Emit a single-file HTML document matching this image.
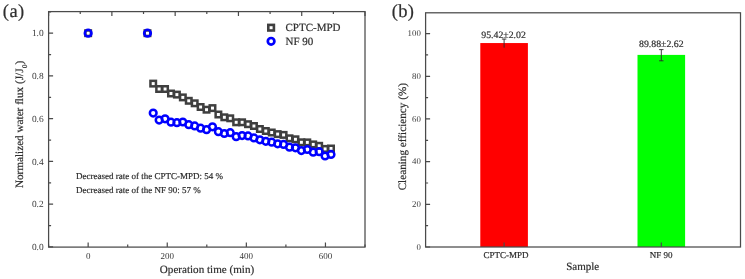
<!DOCTYPE html><html><head><meta charset="utf-8"><style>html,body{margin:0;padding:0;background:#fff;}svg{display:block;will-change:transform;}text{text-rendering:geometricPrecision;font-family:"Liberation Serif", serif;fill:#2e2e2e;stroke:#2e2e2e;stroke-width:0.2px;}.t{stroke:none;fill:#3a3a3a;}</style></head><body>
<svg width="745" height="279" viewBox="0 0 745 279">
<rect width="745" height="279" fill="#fff"/>
<path d="M48.60 246.90H53.10M48.60 225.53H51.10M48.60 204.16H53.10M48.60 182.79H51.10M48.60 161.42H53.10M48.60 140.05H51.10M48.60 118.68H53.10M48.60 97.31H51.10M48.60 75.94H53.10M48.60 54.57H51.10M48.60 33.20H53.10M48.60 11.83H51.10M48.60 247.10V244.60M88.15 247.10V242.60M127.70 247.10V244.60M167.25 247.10V242.60M206.80 247.10V244.60M246.35 247.10V242.60M285.90 247.10V244.60M325.45 247.10V242.60M365.00 247.10V244.60M48.60 11.60V16.10M80.24 11.60V14.10M111.88 11.60V16.10M143.52 11.60V14.10M175.16 11.60V16.10M206.80 11.60V14.10M238.44 11.60V16.10M270.08 11.60V14.10M301.72 11.60V16.10M333.36 11.60V14.10M365.00 11.60V16.10" stroke="#4a4a4a" stroke-width="1.2" fill="none"/>
<rect x="48.60" y="11.60" width="316.40" height="235.50" fill="none" stroke="#4a4a4a" stroke-width="1.25"/>
<text class="t" x="43.60" y="250.10" font-size="9.4" text-anchor="end">0.0</text>
<text class="t" x="43.60" y="207.36" font-size="9.4" text-anchor="end">0.2</text>
<text class="t" x="43.60" y="164.62" font-size="9.4" text-anchor="end">0.4</text>
<text class="t" x="43.60" y="121.88" font-size="9.4" text-anchor="end">0.6</text>
<text class="t" x="43.60" y="79.14" font-size="9.4" text-anchor="end">0.8</text>
<text class="t" x="43.60" y="36.40" font-size="9.4" text-anchor="end">1.0</text>
<text class="t" x="88.15" y="258.90" font-size="9" text-anchor="middle">0</text>
<text class="t" x="167.25" y="258.90" font-size="9" text-anchor="middle">200</text>
<text class="t" x="246.35" y="258.90" font-size="9" text-anchor="middle">400</text>
<text class="t" x="325.45" y="258.90" font-size="9" text-anchor="middle">600</text>
<text x="207" y="272.5" font-size="11.1" text-anchor="middle">Operation time (min)</text>
<text transform="translate(23.1 124.4) rotate(-90)" font-size="11.2" text-anchor="middle">Normalized water flux (J/J<tspan font-size="7" dx="0.6" dy="4.2">0</tspan><tspan dy="-4.2">)</tspan></text>
<text x="2.8" y="17.4" font-size="18.5" letter-spacing="0.45">(a)</text>
<rect x="85.40" y="30.45" width="5.50" height="5.50" fill="none" stroke="#3f3f3f" stroke-width="2.50"/>
<rect x="144.72" y="30.45" width="5.50" height="5.50" fill="none" stroke="#3f3f3f" stroke-width="2.50"/>
<rect x="150.45" y="80.85" width="5.50" height="5.50" fill="none" stroke="#3f3f3f" stroke-width="2.50"/>
<rect x="156.38" y="86.25" width="5.50" height="5.50" fill="none" stroke="#3f3f3f" stroke-width="2.50"/>
<rect x="162.30" y="86.25" width="5.50" height="5.50" fill="none" stroke="#3f3f3f" stroke-width="2.50"/>
<rect x="168.23" y="90.75" width="5.50" height="5.50" fill="none" stroke="#3f3f3f" stroke-width="2.50"/>
<rect x="174.16" y="91.85" width="5.50" height="5.50" fill="none" stroke="#3f3f3f" stroke-width="2.50"/>
<rect x="180.08" y="94.65" width="5.50" height="5.50" fill="none" stroke="#3f3f3f" stroke-width="2.50"/>
<rect x="186.01" y="98.05" width="5.50" height="5.50" fill="none" stroke="#3f3f3f" stroke-width="2.50"/>
<rect x="191.94" y="100.55" width="5.50" height="5.50" fill="none" stroke="#3f3f3f" stroke-width="2.50"/>
<rect x="197.86" y="104.25" width="5.50" height="5.50" fill="none" stroke="#3f3f3f" stroke-width="2.50"/>
<rect x="203.79" y="106.95" width="5.50" height="5.50" fill="none" stroke="#3f3f3f" stroke-width="2.50"/>
<rect x="209.72" y="105.35" width="5.50" height="5.50" fill="none" stroke="#3f3f3f" stroke-width="2.50"/>
<rect x="215.64" y="111.75" width="5.50" height="5.50" fill="none" stroke="#3f3f3f" stroke-width="2.50"/>
<rect x="221.57" y="114.55" width="5.50" height="5.50" fill="none" stroke="#3f3f3f" stroke-width="2.50"/>
<rect x="227.50" y="115.55" width="5.50" height="5.50" fill="none" stroke="#3f3f3f" stroke-width="2.50"/>
<rect x="233.42" y="119.55" width="5.50" height="5.50" fill="none" stroke="#3f3f3f" stroke-width="2.50"/>
<rect x="239.35" y="119.55" width="5.50" height="5.50" fill="none" stroke="#3f3f3f" stroke-width="2.50"/>
<rect x="245.28" y="121.45" width="5.50" height="5.50" fill="none" stroke="#3f3f3f" stroke-width="2.50"/>
<rect x="251.20" y="123.25" width="5.50" height="5.50" fill="none" stroke="#3f3f3f" stroke-width="2.50"/>
<rect x="257.13" y="126.25" width="5.50" height="5.50" fill="none" stroke="#3f3f3f" stroke-width="2.50"/>
<rect x="263.06" y="128.25" width="5.50" height="5.50" fill="none" stroke="#3f3f3f" stroke-width="2.50"/>
<rect x="268.98" y="129.75" width="5.50" height="5.50" fill="none" stroke="#3f3f3f" stroke-width="2.50"/>
<rect x="274.91" y="131.35" width="5.50" height="5.50" fill="none" stroke="#3f3f3f" stroke-width="2.50"/>
<rect x="280.84" y="132.15" width="5.50" height="5.50" fill="none" stroke="#3f3f3f" stroke-width="2.50"/>
<rect x="286.76" y="135.55" width="5.50" height="5.50" fill="none" stroke="#3f3f3f" stroke-width="2.50"/>
<rect x="292.69" y="136.55" width="5.50" height="5.50" fill="none" stroke="#3f3f3f" stroke-width="2.50"/>
<rect x="298.62" y="139.55" width="5.50" height="5.50" fill="none" stroke="#3f3f3f" stroke-width="2.50"/>
<rect x="304.54" y="139.65" width="5.50" height="5.50" fill="none" stroke="#3f3f3f" stroke-width="2.50"/>
<rect x="310.47" y="141.65" width="5.50" height="5.50" fill="none" stroke="#3f3f3f" stroke-width="2.50"/>
<rect x="316.40" y="143.05" width="5.50" height="5.50" fill="none" stroke="#3f3f3f" stroke-width="2.50"/>
<rect x="322.32" y="146.15" width="5.50" height="5.50" fill="none" stroke="#3f3f3f" stroke-width="2.50"/>
<rect x="328.25" y="145.75" width="5.50" height="5.50" fill="none" stroke="#3f3f3f" stroke-width="2.50"/>
<circle cx="88.15" cy="33.20" r="3.35" fill="none" stroke="#0000ff" stroke-width="2.50"/>
<circle cx="147.47" cy="33.20" r="3.35" fill="none" stroke="#0000ff" stroke-width="2.50"/>
<circle cx="153.20" cy="113.10" r="3.35" fill="none" stroke="#0000ff" stroke-width="2.50"/>
<circle cx="159.13" cy="120.10" r="3.35" fill="none" stroke="#0000ff" stroke-width="2.50"/>
<circle cx="165.05" cy="118.80" r="3.35" fill="none" stroke="#0000ff" stroke-width="2.50"/>
<circle cx="170.98" cy="122.20" r="3.35" fill="none" stroke="#0000ff" stroke-width="2.50"/>
<circle cx="176.91" cy="122.70" r="3.35" fill="none" stroke="#0000ff" stroke-width="2.50"/>
<circle cx="182.83" cy="122.00" r="3.35" fill="none" stroke="#0000ff" stroke-width="2.50"/>
<circle cx="188.76" cy="124.70" r="3.35" fill="none" stroke="#0000ff" stroke-width="2.50"/>
<circle cx="194.69" cy="125.90" r="3.35" fill="none" stroke="#0000ff" stroke-width="2.50"/>
<circle cx="200.61" cy="128.20" r="3.35" fill="none" stroke="#0000ff" stroke-width="2.50"/>
<circle cx="206.54" cy="129.70" r="3.35" fill="none" stroke="#0000ff" stroke-width="2.50"/>
<circle cx="212.47" cy="126.80" r="3.35" fill="none" stroke="#0000ff" stroke-width="2.50"/>
<circle cx="218.39" cy="131.70" r="3.35" fill="none" stroke="#0000ff" stroke-width="2.50"/>
<circle cx="224.32" cy="133.50" r="3.35" fill="none" stroke="#0000ff" stroke-width="2.50"/>
<circle cx="230.25" cy="132.70" r="3.35" fill="none" stroke="#0000ff" stroke-width="2.50"/>
<circle cx="236.17" cy="136.70" r="3.35" fill="none" stroke="#0000ff" stroke-width="2.50"/>
<circle cx="242.10" cy="135.60" r="3.35" fill="none" stroke="#0000ff" stroke-width="2.50"/>
<circle cx="248.03" cy="135.90" r="3.35" fill="none" stroke="#0000ff" stroke-width="2.50"/>
<circle cx="253.95" cy="137.90" r="3.35" fill="none" stroke="#0000ff" stroke-width="2.50"/>
<circle cx="259.88" cy="139.80" r="3.35" fill="none" stroke="#0000ff" stroke-width="2.50"/>
<circle cx="265.81" cy="141.30" r="3.35" fill="none" stroke="#0000ff" stroke-width="2.50"/>
<circle cx="271.73" cy="142.20" r="3.35" fill="none" stroke="#0000ff" stroke-width="2.50"/>
<circle cx="277.66" cy="143.80" r="3.35" fill="none" stroke="#0000ff" stroke-width="2.50"/>
<circle cx="283.59" cy="144.40" r="3.35" fill="none" stroke="#0000ff" stroke-width="2.50"/>
<circle cx="289.51" cy="147.20" r="3.35" fill="none" stroke="#0000ff" stroke-width="2.50"/>
<circle cx="295.44" cy="147.80" r="3.35" fill="none" stroke="#0000ff" stroke-width="2.50"/>
<circle cx="301.37" cy="150.60" r="3.35" fill="none" stroke="#0000ff" stroke-width="2.50"/>
<circle cx="307.29" cy="149.50" r="3.35" fill="none" stroke="#0000ff" stroke-width="2.50"/>
<circle cx="313.22" cy="152.20" r="3.35" fill="none" stroke="#0000ff" stroke-width="2.50"/>
<circle cx="319.15" cy="151.70" r="3.35" fill="none" stroke="#0000ff" stroke-width="2.50"/>
<circle cx="325.07" cy="156.00" r="3.35" fill="none" stroke="#0000ff" stroke-width="2.50"/>
<circle cx="331.00" cy="154.40" r="3.35" fill="none" stroke="#0000ff" stroke-width="2.50"/>
<rect x="268.30" y="24.90" width="5.60" height="5.60" fill="none" stroke="#3f3f3f" stroke-width="2.60"/>
<text x="285.5" y="31.3" font-size="11">CPTC-MPD</text>
<circle cx="271.10" cy="41.30" r="3.30" fill="none" stroke="#0000ff" stroke-width="2.70"/>
<text x="285.5" y="45.2" font-size="11">NF 90</text>
<text x="76" y="178.7" font-size="9">Decreased rate of the CPTC-MPD: 54 %</text>
<text x="76" y="192.5" font-size="9">Decreased rate of the NF 90: 57 %</text>
<rect x="480.30" y="43.05" width="47.60" height="203.95" fill="#ff0000"/>
<rect x="637.50" y="54.90" width="47.60" height="192.10" fill="#00ff00"/>
<path d="M504.10 39.06V47.68M501.90 39.06H506.30M661.30 49.61V60.79M659.10 49.61H663.50M659.10 60.79H663.50" stroke="#2a2a2a" stroke-width="0.9" fill="none"/>
<path d="M425.60 247.00H430.10M425.60 225.66H428.10M425.60 204.32H430.10M425.60 182.98H428.10M425.60 161.64H430.10M425.60 140.30H428.10M425.60 118.96H430.10M425.60 97.62H428.10M425.60 76.28H430.10M425.60 54.94H428.10M425.60 33.60H430.10M504.10 247.00V242.50M661.30 247.00V242.50" stroke="#4a4a4a" stroke-width="1.2" fill="none"/>
<rect x="425.60" y="12.80" width="314.90" height="234.20" fill="none" stroke="#4a4a4a" stroke-width="1.25"/>
<text class="t" x="420.80" y="249.60" font-size="8.8" text-anchor="end">0</text>
<text class="t" x="420.80" y="206.92" font-size="8.8" text-anchor="end">20</text>
<text class="t" x="420.80" y="164.24" font-size="8.8" text-anchor="end">40</text>
<text class="t" x="420.80" y="121.56" font-size="8.8" text-anchor="end">60</text>
<text class="t" x="420.80" y="78.88" font-size="8.8" text-anchor="end">80</text>
<text class="t" x="420.80" y="36.20" font-size="8.8" text-anchor="end">100</text>
<text x="506.1" y="258.2" font-size="9" text-anchor="middle">CPTC-MPD</text>
<text x="661.2" y="258.2" font-size="9" text-anchor="middle">NF 90</text>
<text x="582.7" y="269.6" font-size="11" text-anchor="middle">Sample</text>
<text transform="translate(405.6 136.7) rotate(-90)" font-size="11.2" text-anchor="middle">Cleaning efficiency (%)</text>
<text x="503.6" y="37.9" font-size="9.8" text-anchor="middle">95.42±2.02</text>
<text x="661.35" y="47" font-size="9.8" text-anchor="middle">89.88±2.62</text>
<text x="391.7" y="17.0" font-size="18.5" letter-spacing="0.3">(b)</text>
</svg></body></html>
